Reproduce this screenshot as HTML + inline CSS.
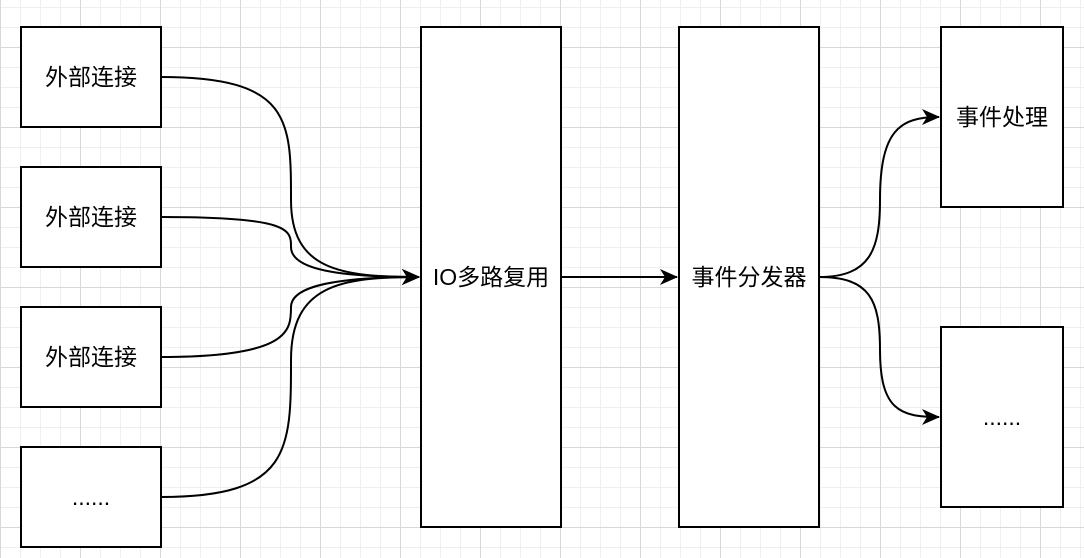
<!DOCTYPE html>
<html><head><meta charset="utf-8"><style>
html,body{margin:0;padding:0;}
body{width:1084px;height:558px;overflow:hidden;background:#fff;
background-image:
linear-gradient(to right,#d8d8d8 1px,transparent 1px),
linear-gradient(to bottom,#d8d8d8 1px,transparent 1px),
linear-gradient(to right,#efefef 1px,transparent 1px),
linear-gradient(to bottom,#efefef 1px,transparent 1px);
background-size:80px 80px,80px 80px,20px 20px,20px 20px;
background-position:0px 47px,0px 47px,0px 7px,0px 7px;}
svg{position:absolute;left:0;top:0}
text{font-family:"Liberation Sans","Noto Sans CJK SC",sans-serif;font-size:23px;fill:#000}
</style></head><body>
<svg width="1084" height="558" viewBox="0 0 1084 558">
<defs>
<marker id="b" markerWidth="18" markerHeight="18" refX="17" refY="9" orient="auto" markerUnits="userSpaceOnUse"><path d="M0,1 L18,9 L0,17 L5,9 Z" fill="#000"/></marker></defs>
<g fill="#fff" stroke="#000" stroke-width="2">
<rect x="21" y="27" width="140" height="100"/>
<rect x="21" y="167" width="140" height="100"/>
<rect x="21" y="307" width="140" height="100"/>
<rect x="21" y="447" width="140" height="100"/>
<rect x="421" y="27" width="140" height="500"/>
<rect x="679" y="27" width="140" height="500"/>
<rect x="941" y="27" width="122" height="180"/>
<rect x="941" y="327" width="122" height="180"/>
</g>
<g fill="none" stroke="#000" stroke-width="2">
<path d="M161,77 C291,77 291,120 291,200 C291,270 340,277 419,277" marker-end="url(#b)"/>
<path d="M161,217 C291,217 291,230 291,247 C291,270 340,277 419,277" marker-end="url(#b)"/>
<path d="M161,357 C291,357 291,330 291,307 C291,285 340,277 419,277" marker-end="url(#b)"/>
<path d="M161,497 C291,497 291,450 291,360 C291,285 340,277 419,277" marker-end="url(#b)"/>
<path d="M561,277 L677,277" marker-end="url(#b)"/>
<path d="M819,277 C870,277 880,250 880,200 C880,130 900,117 939,117" marker-end="url(#b)"/>
<path d="M819,277 C870,277 880,300 880,350 C880,410 900,417 939,417" marker-end="url(#b)"/>
</g>
<g text-anchor="middle">
<text x="91" y="85">外部连接</text>
<text x="91" y="225">外部连接</text>
<text x="91" y="365">外部连接</text>
<text x="91" y="505">......</text>
<text x="491" y="285">IO多路复用</text>
<text x="749" y="285">事件分发器</text>
<text x="1002" y="125">事件处理</text>
<text x="1002" y="425">......</text>
</g>
</svg>
</body></html>
